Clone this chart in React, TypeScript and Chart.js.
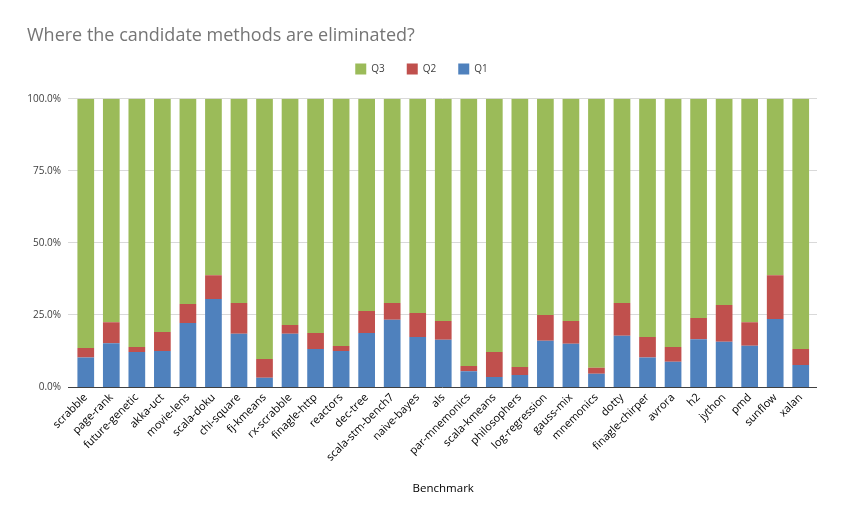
import React, { useEffect, useRef } from "react";
import { Chart, registerables } from "chart.js";

Chart.register(...registerables);

const titleText = "Where the candidate methods are eliminated?";
const axisTitle = "Benchmark";

const categories = [
  "scrabble", "page-rank", "future-genetic", "akka-uct", "movie-lens", "scala-doku",
  "chi-square", "fj-kmeans", "rx-scrabble", "finagle-http", "reactors", "dec-tree",
  "scala-stm-bench7", "naive-bayes", "als", "par-mnemonics", "scala-kmeans",
  "philosophers", "log-regression", "gauss-mix", "mnemonics", "dotty",
  "finagle-chirper", "avrora", "h2", "jython", "pmd", "sunflow", "xalan",
];

const q1 = [10.2, 15.2, 12.1, 12.5, 22.2, 30.5, 18.5, 3.2, 18.5, 13.2, 12.5, 18.7, 23.3, 17.3, 16.4, 5.5, 3.5, 4.2, 16.0, 15.0, 4.6, 17.8, 10.2, 8.8, 16.6, 15.7, 14.3, 23.6, 7.6];
const q2 = [3.3, 7.3, 1.8, 6.6, 6.6, 8.3, 10.6, 6.5, 3.0, 5.5, 1.7, 7.7, 5.8, 8.4, 6.5, 1.8, 8.6, 2.7, 9.0, 7.9, 2.1, 11.3, 7.1, 5.1, 7.3, 12.7, 8.2, 15.2, 5.6];
const q3 = [86.5, 77.5, 86.1, 80.9, 71.2, 61.2, 70.9, 90.3, 78.5, 81.3, 85.8, 73.6, 70.9, 74.3, 77.1, 92.7, 87.9, 93.1, 75.0, 77.1, 93.3, 70.9, 82.7, 86.1, 76.1, 71.6, 77.5, 61.2, 86.8];

const yTicks = [0, 25, 50, 75, 100];

const FONT = '"Open Sans", "Noto Sans", sans-serif';

export default function App() {
  const ref = useRef<HTMLCanvasElement | null>(null);

  useEffect(() => {
    document.body.style.margin = "0";
    const canvas = ref.current;
    if (!canvas) return;

    const decor = {
      id: "decor",
      beforeDatasetsDraw(chart: any) {
        const { ctx } = chart;
        const y = chart.scales.y;
        ctx.save();
        ctx.strokeStyle = "#D9D9D9";
        ctx.lineWidth = 1;
        yTicks.forEach((v) => {
          if (v === 0) return;
          const py = Math.round(y.getPixelForValue(v)) - 0.5;
          ctx.beginPath();
          ctx.moveTo(68, py);
          ctx.lineTo(817, py);
          ctx.stroke();
        });
        ctx.restore();
      },
      afterDatasetsDraw(chart: any) {
        const { ctx } = chart;
        const y = chart.scales.y;
        ctx.save();
        ctx.strokeStyle = "#404040";
        ctx.lineWidth = 1;
        const py = Math.round(y.getPixelForValue(0)) + 0.5;
        ctx.beginPath();
        ctx.moveTo(68, py);
        ctx.lineTo(817, py);
        ctx.stroke();
        ctx.restore();
      },
      afterDraw(chart: any) {
        const { ctx } = chart;
        ctx.save();
        ctx.font = `18px ${FONT}`;
        ctx.fillStyle = "#757575";
        ctx.textAlign = "left";
        ctx.textBaseline = "alphabetic";
        ctx.fillText(titleText, 27, 40.5);
        ctx.restore();
      },
    };

    const chart = new Chart(canvas, {
      type: "bar",
      data: {
        labels: categories,
        datasets: [
          { label: "Q1", data: q1, backgroundColor: "#4F81BD", borderWidth: 0, xAxisID: "x", yAxisID: "y" },
          { label: "Q2", data: q2, backgroundColor: "#C0504D", borderWidth: 0, xAxisID: "x", yAxisID: "y" },
          { label: "Q3", data: q3, backgroundColor: "#9BBB59", borderWidth: 0, xAxisID: "x", yAxisID: "y" },
        ],
      },
      options: {
        responsive: false,
        animation: false,
        devicePixelRatio: 1,
        layout: { padding: { top: 41.5, left: 0, right: 0, bottom: 0 } },
        datasets: { bar: { categoryPercentage: 1, barPercentage: 0.654 } },
        plugins: {
          title: { display: false },
          tooltip: { enabled: false },
          legend: {
            display: true,
            position: "top",
            align: "center",
            reverse: true,
            labels: {
              boxWidth: 11,
              boxHeight: 11,
              padding: 22,
              color: "#404040",
              font: { family: FONT, size: 10 },
            },
          },
        },
        scales: {
          x: {
            type: "category",
            position: "bottom",
            stacked: true,
            grid: { display: false, drawTicks: false },
            border: { display: false },
            ticks: {
              autoSkip: false,
              maxRotation: 45,
              minRotation: 45,
              padding: 4,
              color: "#000000",
              font: { family: FONT, size: 11 },
            },
            title: {
              display: true,
              text: axisTitle,
              color: "#000000",
              font: { family: FONT, size: 11.5 },
              padding: { top: 0, bottom: 26 },
            },
            afterFit: (s: any) => { s.height = 135; },
          },
          y: {
            type: "linear",
            position: "left",
            stacked: true,
            min: 0,
            max: 100,
            grid: { display: false, drawTicks: false },
            border: { display: false },
            ticks: {
              stepSize: 25,
              padding: 12,
              color: "#404040",
              font: { family: FONT, size: 10 },
              callback: (v: any) => Number(v).toFixed(1) + "%",
            },
            afterFit: (s: any) => { s.width = 73; },
          },
          gapTop: {
            type: "linear",
            axis: "x",
            position: "top",
            display: true,
            grid: { display: false, drawTicks: false },
            border: { display: false },
            ticks: { display: false },
            afterFit: (s: any) => { s.height = 14.2; },
          },
          gapRight: {
            type: "linear",
            axis: "y",
            position: "right",
            display: true,
            grid: { display: false, drawTicks: false },
            border: { display: false },
            ticks: { display: false },
            afterFit: (s: any) => { s.width = 29.5; },
          },
        },
      },
      plugins: [decor],
    } as any);

    return () => chart.destroy();
  }, []);

  return (
    <div style={{ position: "absolute", left: 0, top: 0, width: 843, height: 522, background: "#ffffff" }}>
      <canvas ref={ref} width={843} height={522} />
    </div>
  );
}
